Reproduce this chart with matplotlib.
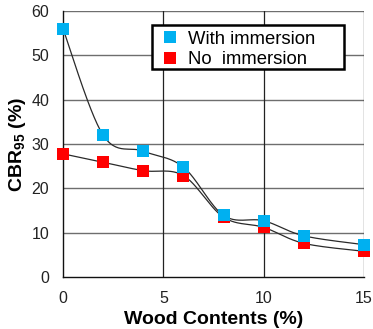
import numpy as np
import matplotlib
matplotlib.use("Agg")
import matplotlib.pyplot as plt
from matplotlib.patches import Rectangle

plt.rcParams['font.family'] = ['Liberation Sans', 'DejaVu Sans']
plt.rcParams['mathtext.fontset'] = 'custom'
plt.rcParams['mathtext.rm'] = 'Liberation Sans:bold'
plt.rcParams['mathtext.bf'] = 'Liberation Sans:bold'

wood = [0, 2, 4, 6, 8, 10, 12, 15]
with_immersion = [56.0, 32.0, 28.4, 24.8, 13.9, 12.7, 9.3, 7.3]
no_immersion = [27.8, 25.9, 24.0, 22.9, 13.5, 11.2, 7.6, 5.8]
series_labels = ["With immersion", "No  immersion"]
xticks = [0, 5, 10, 15]
yticks = [0, 10, 20, 30, 40, 50, 60]


def smooth(x, y, n=30):
    """Catmull-Rom curve through the points (spreadsheet-style smoothed line)."""
    x = np.asarray(x, float)
    y = np.asarray(y, float)
    px = np.concatenate([[x[0]], x, [x[-1]]])
    py = np.concatenate([[y[0]], y, [y[-1]]])
    xs, ys = [], []
    t = np.linspace(0, 1, n)
    for i in range(1, len(px) - 2):
        p0, p1, p2, p3 = (np.array([px[j], py[j]]) for j in (i - 1, i, i + 1, i + 2))
        c1 = p1 + (p2 - p0) / 6.0
        c2 = p2 - (p3 - p1) / 6.0
        b = ((1 - t) ** 3)[:, None] * p1 + (3 * (1 - t) ** 2 * t)[:, None] * c1 \
            + (3 * (1 - t) * t ** 2)[:, None] * c2 + (t ** 3)[:, None] * p2
        xs.append(b[:, 0])
        ys.append(b[:, 1])
    return np.concatenate(xs), np.concatenate(ys)


fig = plt.figure(figsize=(3.73, 3.29), dpi=100)
ax = fig.add_axes([0.169, 0.158, 0.807, 0.808])

for v in yticks[1:]:
    ax.axhline(v, color='#6e6e6e', lw=1.0, zorder=1)
for v in xticks[1:]:
    ax.axvline(v, color='#222222', lw=0.9, zorder=1)

for yv in (with_immersion, no_immersion):
    sx, sy = smooth(wood, yv)
    ax.plot(sx, sy, color='#2a2a2a', lw=0.9, zorder=2)

ax.plot(wood, no_immersion, 's', color='#ff0000', ms=8.5, mew=0,
        label=series_labels[1], zorder=3, clip_on=False)
ax.plot(wood, with_immersion, 's', color='#00b0f0', ms=8.5, mew=0,
        label=series_labels[0], zorder=4, clip_on=False)

ax.set_xlim(0, 15)
ax.set_ylim(0, 60)
ax.set_xticks(xticks)
ax.set_yticks(yticks)
ax.tick_params(length=0, labelsize=11.5, pad=10, colors='#222222')
for s in ('top', 'right'):
    ax.spines[s].set_visible(False)
for s in ('left', 'bottom'):
    ax.spines[s].set_color('#111111')
    ax.spines[s].set_linewidth(1.0)

ax.set_xlabel('Wood Contents (%)', fontsize=14, fontweight='bold', labelpad=4)
ax.set_ylabel(r'CBR$_{\mathregular{95}}$ (%)', fontsize=14, fontweight='bold', labelpad=2)

# legend box
ax.add_patch(Rectangle((0.296, 0.783), 0.638, 0.166, transform=ax.transAxes,
                       facecolor='white', edgecolor='black', lw=1.8, zorder=5,
                       clip_on=False))
handles, labels = ax.get_legend_handles_labels()
leg = ax.legend(handles[::-1], labels[::-1], loc='upper left',
                bbox_to_anchor=(0.328, 0.927), fontsize=13.3, frameon=False,
                handlelength=0.9, handletextpad=0.5, borderpad=0,
                labelspacing=0.2, borderaxespad=0, markerscale=1.05)
leg.set_zorder(6)

fig.savefig('out.png', dpi=100)
